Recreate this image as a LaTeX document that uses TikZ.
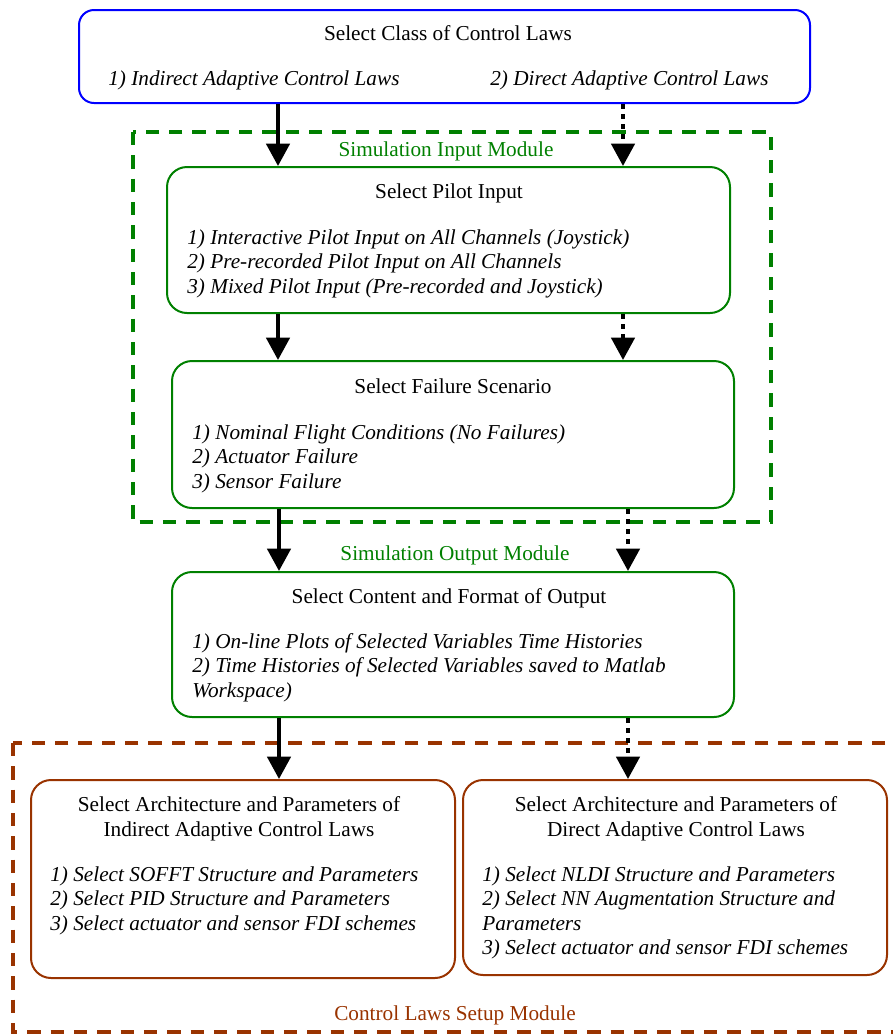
\documentclass[tikz,border=0pt]{standalone}
\usepackage{fontspec}
\setmainfont{Liberation Serif}
\usetikzlibrary{arrows.meta}

\definecolor{modgreen}{RGB}{0,128,0}
\definecolor{modbrown}{RGB}{153,51,0}
\definecolor{modblue}{RGB}{0,0,255}

\begin{document}
\begin{tikzpicture}[x=0.6pt,y=-0.6pt,
  font=\fontsize{12.75}{14.7}\selectfont,
  box/.style={draw,line width=1.2pt,rounded corners=12pt,inner sep=0pt},
  module/.style={line width=2.1pt,dash pattern=on 8pt off 6pt},
  title/.style={anchor=base,align=center},
  items/.style={anchor=north west,align=left,inner sep=0pt,font=\fontsize{12.75}{14.7}\selectfont\itshape},
  solidarr/.style={line width=2.4pt,-{Triangle[width=14pt,length=13.5pt]}},
  dotarr/.style={line width=2.4pt,dash pattern=on 3pt off 3pt,-{Triangle[width=14pt,length=13.5pt]}}]

\useasboundingbox (0,0) rectangle (893,1035);

% module frames
\draw[modgreen,module] (133,132) rectangle (771,522);
\draw[modbrown,module] (13,743) rectangle (930,1032);
\node[title,modgreen] (inmod) at (446,156) {Simulation Input Module};
\node[title,modgreen] (outmod) at (455,560) {Simulation Output Module};
\node[title,modbrown] (lawmod) at (455,1020) {Control Laws Setup Module};

% boxes
\node[box,modblue,rounded corners=9pt,minimum width=438.6pt,minimum height=55.8pt] (top) at (444.5,56.5) {};
\node[box,modgreen,minimum width=337.8pt,minimum height=87.6pt] (pilot) at (448.5,240) {};
\node[box,modgreen,minimum width=337.2pt,minimum height=88.2pt] (fail) at (453,434.5) {};
\node[box,modgreen,minimum width=337.2pt,minimum height=87pt] (out) at (453,644.5) {};
\node[box,modbrown,minimum width=254.4pt,minimum height=118.8pt] (indir) at (243,879) {};
\node[box,modbrown,minimum width=254.4pt,minimum height=117pt] (dir) at (675,877.5) {};

% texts
\node[title] (toptitle) at (448,40) {Select Class of Control Laws};
\node[items] (topitemA) at (108,70) {1) Indirect Adaptive Control Laws};
\node[items] (topitemB) at (490,70) {2) Direct Adaptive Control Laws};

\node[title] (pilottitle) at (449,198) {Select Pilot Input};
\node[items] (pilotitems) at (187,229) {1) Interactive Pilot Input on All Channels (Joystick)\\
2) Pre-recorded Pilot Input on All Channels\\
3) Mixed Pilot Input (Pre-recorded and Joystick)};

\node[title] (failtitle) at (453,393) {Select Failure Scenario};
\node[items] (failitems) at (192,424) {1) Nominal Flight Conditions (No Failures)\\
2) Actuator Failure\\
3) Sensor Failure};

\node[title] (outtitle) at (449,603) {Select Content and Format of Output};
\node[items] (outitems) at (192,633) {1) On-line Plots of Selected Variables Time Histories\\
2) Time Histories of Selected Variables saved to Matlab\\
Workspace)};

\node[title] (indirtitle) at (239,836) {Select Architecture and Parameters of\\Indirect Adaptive Control Laws};
\node[items] (indiritems) at (50,866) {1) Select SOFFT Structure and Parameters\\
2) Select PID Structure and Parameters\\
3) Select actuator and sensor FDI schemes};

\node[title] (dirtitle) at (676,836) {Select Architecture and Parameters of\\Direct Adaptive Control Laws};
\node[items] (diritems) at (482,866) {1) Select NLDI Structure and Parameters\\
2) Select NN Augmentation Structure and\\
Parameters\\
3) Select actuator and sensor FDI schemes};

% arrows
\coordinate (colA) at (278,0);
\coordinate (colB) at (623,0);
\coordinate (colC) at (279,0);
\coordinate (colD) at (628,0);

\draw[solidarr] (top.south -| colA) -- (pilot.north -| colA);
\draw[dotarr] (top.south -| colB) -- (pilot.north -| colB);
\draw[solidarr] (pilot.south -| colA) -- (fail.north -| colA);
\draw[dotarr] (pilot.south -| colB) -- (fail.north -| colB);
\draw[solidarr] (fail.south -| colC) -- (out.north -| colC);
\draw[dotarr] (fail.south -| colD) -- (out.north -| colD);
\draw[solidarr] (out.south -| colC) -- (indir.north -| colC);
\draw[dotarr] (out.south -| colD) -- (dir.north -| colD);

\end{tikzpicture}
\end{document}
